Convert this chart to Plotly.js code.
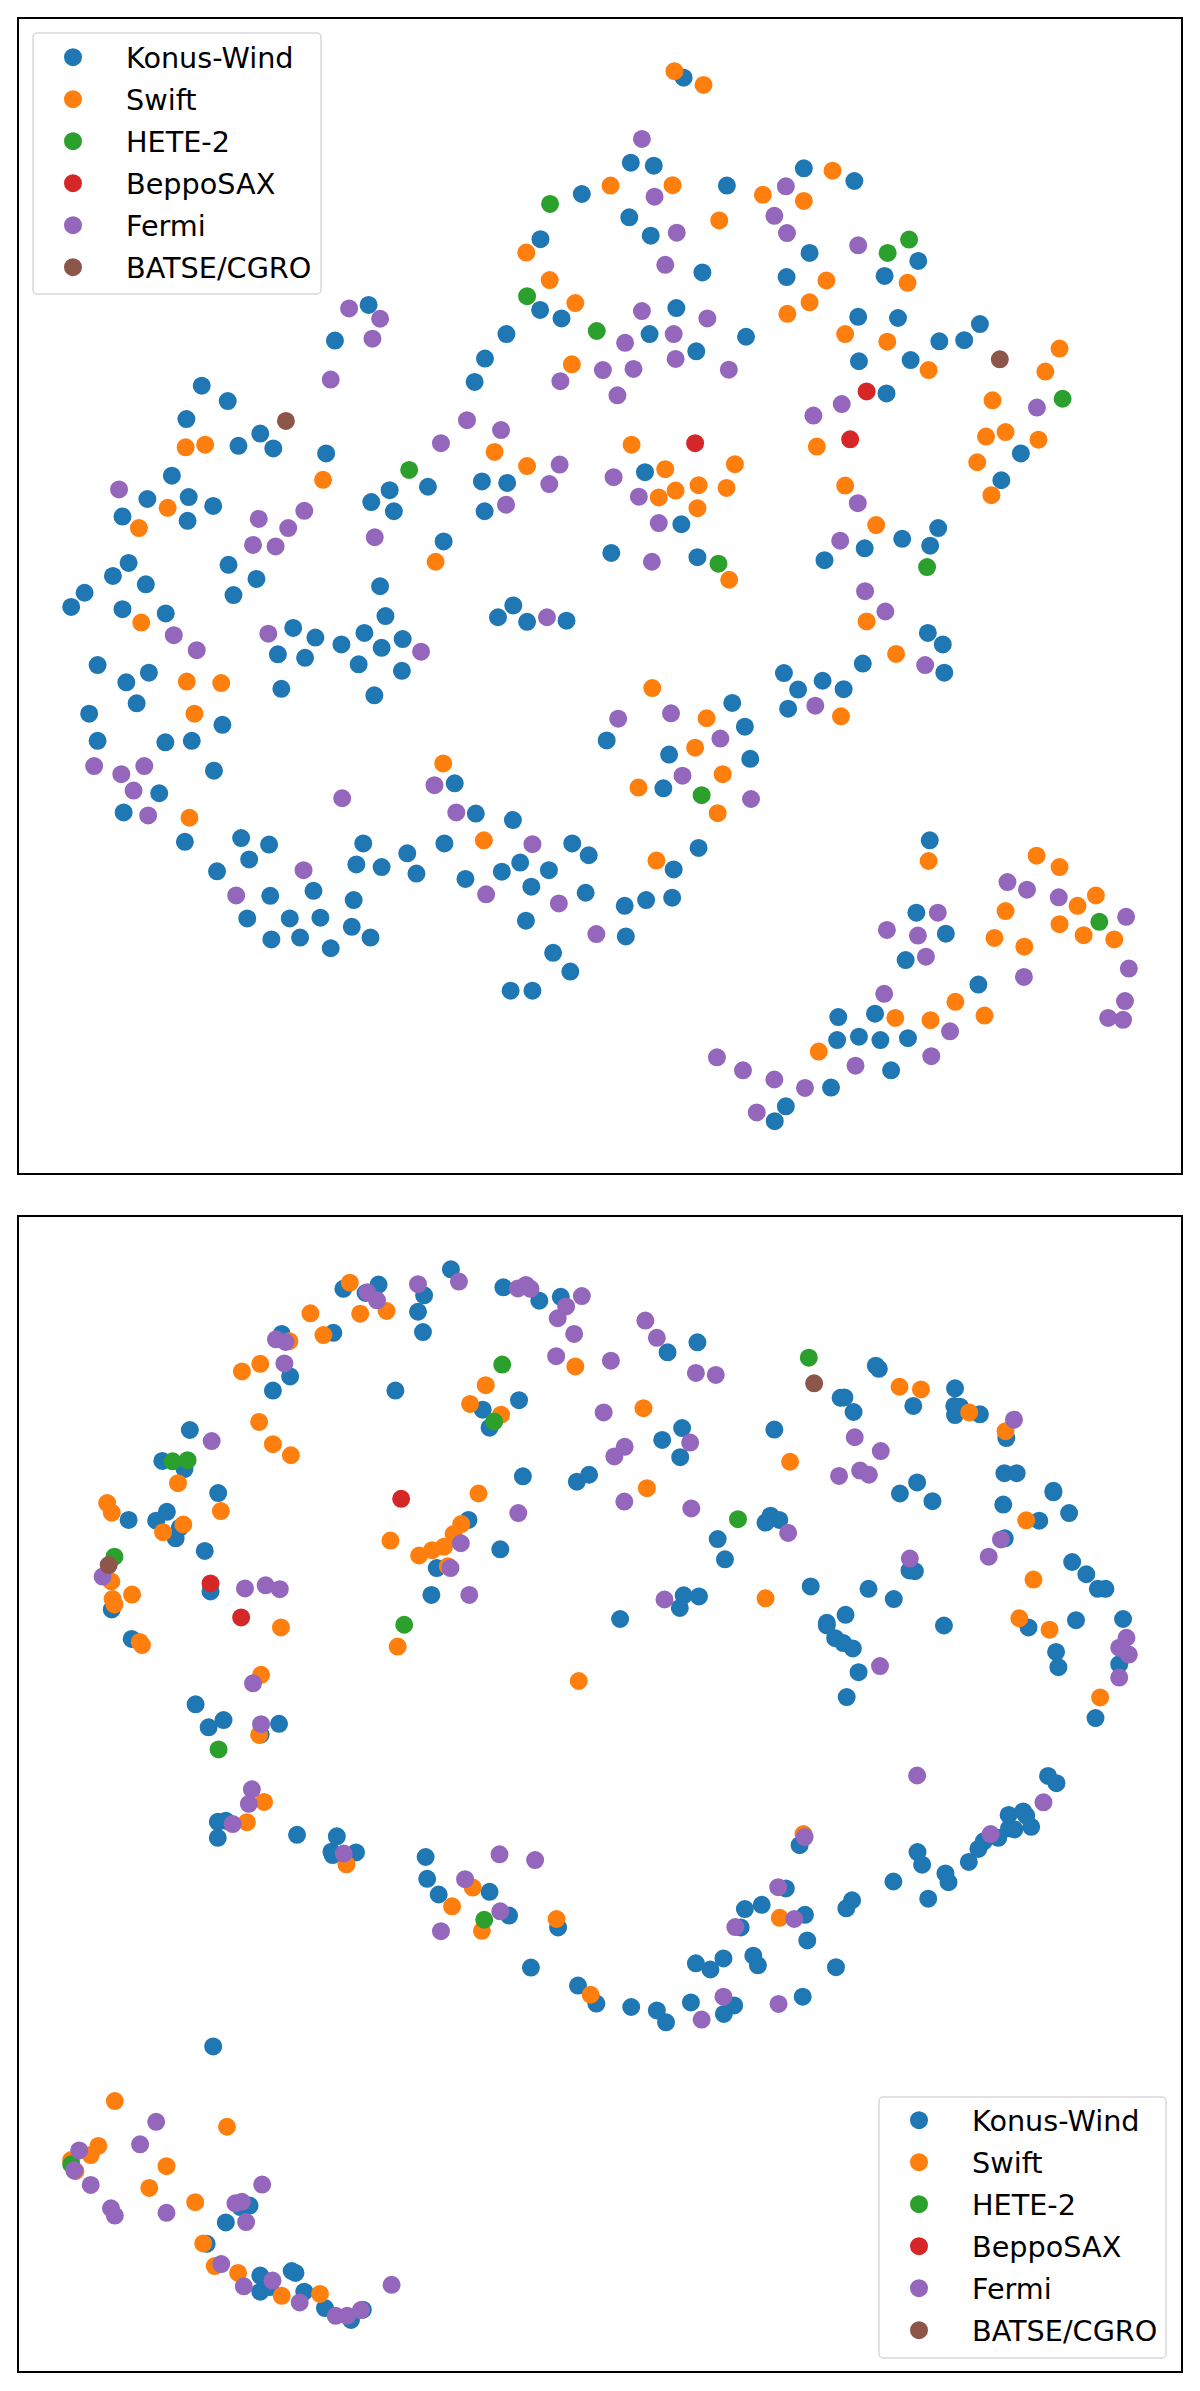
<!DOCTYPE html>
<html>
<head>
<meta charset="utf-8">
<script src="https://cdn.plot.ly/plotly-3.0.1.min.js"></script>
<style>html,body{margin:0;padding:0;background:#fff}#chart{width:1200px;height:2391px}</style>
</head>
<body>
<div id="chart"></div>
<script>
const names = ["Konus-Wind","Swift","HETE-2","BeppoSAX","Fermi","BATSE/CGRO"];
const colors = ["#1f77b4","#ff7f0e","#2ca02c","#d62728","#9467bd","#8c564b"];

const topKonus = [[1520,507],[1412,625],[1411,810],[1467,832],[1323,873],[1267,937],[1240,998],[963,797],[875,890],[527,1008],[595,1048],[487,1095],[680,1133],[623,1165],[714,1172],[852,1185],[449,1243],[385,1304],[493,1299],[557,1322],[320,1350],[490,1361],[1018,1281],[970,1312],[1029,1336],[1118,1272],[1259,1258],[1325,1262],[1266,1336],[1159,1415],[597,1476],[670,1513],[336,1471],[295,1505],[381,1527],[221,1549],[993,1532],[610,1555],
[1786,203],[1648,425],[1708,433],[1899,485],[1644,568],[1700,616],[1835,712],[1767,805],[1697,873],[1819,918],[1949,880],[2100,440],[2232,473],[2115,661],[2055,724],[2311,721],[2399,682],[2242,828],[2346,831],[2454,892],[2519,889],[2560,847],[2244,944],[2379,941],[2316,1028],[2667,1185],[2616,1255],[1685,1234],[1780,1370],[1597,1445],[1822,1456],[2451,1380],[2357,1408],[2430,1426],[2259,1433],[2154,1464],
[186,1586],[320,1592],[433,1603],[1007,1610],[766,1641],[824,1666],[892,1684],[952,1654],[997,1693],[1052,1670],[726,1710],[797,1719],[937,1736],[1050,1753],[978,1817],[735,1800],[1301,1613],[1341,1582],[1377,1625],[1480,1622],[255,1738],[330,1783],[389,1758],[357,1838],[233,1865],[581,1894],[255,1936],[432,1940],[501,1936],[559,2014],[416,2073],[323,2123],[483,2200],[630,2190],[703,2207],[651,2246],[567,2277],[949,2204],[931,2259],[997,2266],[1064,2230],[1088,2283],[1161,2204],[1188,2047],[1243,2126],[1340,2143],[1216,2297],[1311,2278],[1359,2254],[1434,2274],[1388,2317],[1495,2204],[1538,2235],[1530,2333],[1374,2406],[819,2328],[706,2341],[924,2352],[646,2400],[757,2400],[837,2398],[709,2455],[784,2450],[919,2422],[968,2450],[864,2478],[1445,2490],[1490,2539],[1334,2589],[1391,2589],
[2424,1654],[2463,1684],[2467,1758],[2254,1734],[2048,1759],[2085,1802],[2149,1779],[2204,1801],[2059,1852],[1913,1837],[1946,1899],[1585,1935],[1960,1983],[1748,1972],[1733,2060],[1825,2216],[1760,2272],[1756,2346],[1688,2352],[1632,2367],[1635,2447],[2429,2196],[2394,2385],[2471,2440],[2366,2509],[2556,2573],[2286,2649],[2190,2658],[2187,2718],[2244,2709],[2300,2718],[2372,2713],[2328,2797],[2171,2842],[2053,2891],[2024,2930]];
const topSwift = [[1375,660],[1436,732],[1503,792],[1494,952],[485,1169],[536,1162],[844,1254],[438,1327],[363,1380],[1292,1181],[1377,1218],[1138,1468],
[1762,186],[1838,222],[1595,485],[1757,484],[1879,576],[1993,509],[2175,446],[2100,525],[2159,733],[2115,790],[2057,820],[2371,739],[2208,873],[2318,893],[2426,967],[2768,911],[2731,971],[2593,1046],[2713,1149],[2627,1129],[2576,1141],[2553,1208],[2590,1294],[2134,1167],[1650,1162],[1738,1226],[1920,1213],[1825,1268],[1898,1275],[1765,1282],[1721,1300],[1822,1328],[2208,1269],[2289,1372],[1905,1515],
[369,1627],[488,1781],[578,1785],[508,1865],[495,2137],[1158,1995],[1264,2196],
[2264,1624],[2341,1709],[2197,1872],[1704,1798],[1846,1877],[1816,1954],[1888,2023],[1668,2058],[1875,2125],[1715,2249],[2426,2250],[2708,2236],[2768,2266],[2863,2340],[2815,2367],[2627,2381],[2768,2415],[2831,2444],[2911,2455],[2598,2451],[2676,2474],[2496,2618],[2572,2654],[2431,2666],[2339,2660],[2139,2748]];
const topHete = [[1437,533],[1377,774],[1559,865],[1069,1228],[2375,626],[2319,661],[2776,1042],[1877,1473],[2422,1482],[1833,2078],[2872,2409]];
const topBeppo = [[2264,1023],[2221,1148],[1816,1158]];
const topFermi = [[912,806],[993,833],[973,885],[864,992],[1464,996],[1575,967],[1220,1098],[1309,1124],[1152,1158],[1462,1214],[1435,1265],[1322,1319],[311,1279],[795,1335],[676,1356],[753,1380],[661,1424],[720,1428],[979,1404],
[1677,363],[2053,487],[1710,514],[2023,564],[2056,609],[1768,608],[2242,641],[1738,692],[1677,813],[1848,832],[1760,873],[1633,896],[1765,938],[1655,964],[1904,966],[1613,1033],[2199,1056],[2125,1086],[2709,1065],[1603,1247],[1669,1298],[1721,1367],[2241,1315],[2195,1413],[1703,1468],[2260,1545],
[454,1660],[514,1699],[701,1656],[1100,1703],[1429,1613],[246,2002],[317,2023],[377,2002],[349,2066],[387,2131],[894,2086],[1135,2052],[1192,2123],[793,2274],[617,2340],[1391,2206],[1270,2337],[1460,2361],[1558,2441],
[2313,1598],[2417,1738],[1615,1878],[1753,1864],[1882,1930],[1783,2027],[1962,2088],[2130,1844],[2450,2385],[2317,2430],[2398,2445],[2419,2500],[2632,2305],[2683,2325],[2766,2345],[2942,2396],[2949,2531],[2939,2616],[2895,2660],[2934,2665],[2675,2553],[2310,2597],[2482,2695],[2433,2760],[2235,2785],[1873,2763],[1941,2797],[2023,2821],[2103,2843],[1977,2907]];
const topBatse = [[747,1100],[2612,939]];

const botKonus = [[1178,181],[897,232],[989,221],[955,243],[1108,249],[1092,292],[1105,345],[871,347],[736,350],[758,461],[713,498],[1033,498],[1315,228],[1409,263],[1465,253],[1356,523],[1261,548],[1279,595],[496,601],[424,682],[482,703],[570,766],[336,836],[408,838],[436,815],[470,856],[459,884],[535,917],[1366,722],[1507,736],[1539,718],[1224,836],[1307,913],[1141,962],[1127,1032],[550,1023],[292,1070],[344,1147],[511,1318],[584,1359],[545,1378],[729,1369],[681,1397],
[1822,372],[1744,398],[2288,433],[2296,441],[2196,517],[2206,516],[2230,554],[2023,600],[2495,492],[2386,538],[2493,538],[2508,540],[2495,562],[2560,560],[2629,622],[2624,714],[2656,714],[2752,760],[2752,764],[2396,738],[2351,767],[2436,787],[2621,796],[2793,818],[2715,838],[2625,884],[1782,596],[1730,627],[1777,672],[2013,825],[2036,836],[2000,843],[1875,886],[1894,939],[2801,946],[2838,978],[2868,1016],[2888,1016],[2376,968],[2390,970],[2118,1010],[2269,1016],[2335,1043],[1786,1033],[1826,1036],[1776,1066],[1620,1095],[2209,1084],[2160,1105],[2160,1112],[2182,1145],[2203,1158],[2228,1172],[2466,1112],[2687,1117],[2811,1098],[2934,1095],[2759,1181],[2765,1221],[2924,1213],[2243,1234],[2212,1299],[2862,1354],[2738,1505],[2760,1524],
[569,1625],[590,1622],[569,1667],[776,1659],[880,1663],[866,1703],[869,1712],[930,1705],[1112,1717],[1116,1774],[1146,1815],[1279,1808],[1330,1870],[1458,1901],[1387,2006],[1510,2053],[1558,2100],[557,2212],[652,2628],[628,2632],[590,2672],[540,2728],[680,2811],[762,2799],[772,2804],[680,2853],[705,2841],[795,2853],[849,2896],[948,2900],[917,2927],
[2635,1607],[2673,1598],[2681,1609],[2694,1638],[2636,1642],[2650,1645],[2608,1667],[2570,1676],[2556,1696],[2531,1730],[2397,1704],[2409,1737],[2470,1760],[2478,1783],[2334,1781],[2425,1826],[2226,1830],[2211,1851],[2089,1686],[2053,1799],[1990,1842],[1946,1853],[2103,1868],[1935,1901],[2109,1935],[1890,1982],[1968,1975],[1980,2000],[1818,1995],[1856,2011],[2184,2005],[2097,2082],[1805,2097],[1918,2105],[1891,2127],[1649,2109],[1716,2118],[1740,2149]];
const botSwift = [[914,216],[811,296],[941,297],[1010,290],[845,353],[756,369],[680,428],[632,448],[1269,484],[1228,533],[1309,561],[677,580],[713,638],[760,667],[465,740],[280,792],[292,817],[577,813],[479,848],[426,868],[1250,767],[1205,847],[1185,873],[1160,906],[1129,915],[1095,929],[1020,890],[1170,957],[291,997],[345,1031],[294,1043],[299,1057],[734,1117],[365,1155],[371,1163],[1039,1167],[1503,435],[1512,1257],[682,1241],[677,1398],
[2350,488],[2406,495],[2532,555],[2627,604],[1681,544],[2064,684],[1690,753],[2681,837],[2700,992],[2000,1041],[2663,1093],[2742,1123],[2874,1300],
[645,1626],[690,1573],[905,1736],[1235,1797],[1181,1846],[1259,1910],[1454,1879],[1543,2077],[300,2355],[593,2422],[257,2472],[237,2496],[186,2509],[197,2538],[435,2525],[390,2582],[510,2619],[531,2727],[561,2786],[622,2804],[736,2864],[836,2859],
[2099,1657],[2037,1876]];
const botHete = [[1312,430],[1291,579],[451,683],[490,680],[299,932],[1056,1110],[571,1436],[2113,412],[1928,834],[1265,1881],[186,2520]];
const botBeppo = [[1048,781],[550,1002],[630,1091]];
const botFermi = [[1092,220],[1199,213],[960,241],[985,262],[721,364],[746,371],[743,427],[1353,231],[1374,222],[1386,232],[1479,278],[1457,309],[1520,251],[1500,350],[1453,408],[553,630],[1204,897],[1177,962],[1226,1032],[1354,818],[268,984],[640,1015],[694,1007],[731,1017],[661,1263],[682,1370],[658,1540],
[1686,315],[1716,360],[1596,420],[1818,452],[1870,457],[1577,555],[2649,574],[2233,620],[2301,656],[1803,634],[1632,645],[1605,670],[2192,721],[2247,707],[2270,718],[1631,788],[1806,806],[2059,870],[2615,887],[2583,932],[2377,937],[1736,1044],[2943,1144],[2924,1170],[2949,1188],[2924,1248],[2299,1218],[2396,1504],[2726,1574],
[650,1578],[608,1631],[898,1708],[1305,1710],[1398,1725],[1215,1775],[1307,1859],[1152,1911],[408,2409],[366,2468],[207,2484],[194,2536],[237,2574],[685,2573],[290,2635],[300,2654],[435,2647],[615,2622],[632,2618],[643,2671],[578,2781],[712,2824],[637,2839],[783,2881],[877,2916],[907,2916],[943,2901],[1023,2835],
[2588,1657],[2102,1665],[2033,1796],[2075,1879],[1921,1900],[1890,2082],[2034,2101],[1833,2142]];
const botBatse = [[284,954],[2127,479]];

const W = 1200, H = 2391;
const topSeries = [topKonus,topSwift,topHete,topBeppo,topFermi,topBatse];
const botSeries = [botKonus,botSwift,botHete,botBeppo,botFermi,botBatse];

function makeTraces(series, xa, ya, legendId) {
  return series.map((pts, i) => ({
    type: "scatter", mode: "markers", name: names[i],
    x: pts.map(p => p[0]), y: pts.map(p => p[1]),
    xaxis: xa, yaxis: ya, legend: legendId, legendgroup: legendId + i,
    marker: {color: colors[i], size: 16, line: {width: 2, color: colors[i]}},
    hoverinfo: "x+y+name"
  }));
}
function hiddenAxis(extra) {
  return Object.assign({showgrid:false, zeroline:false, showticklabels:false, ticks:"",
    showline:true, mirror:true, linecolor:"#000", linewidth:1.5}, extra);
}
function roundedBox(x0, y0, x1, y1, r) {
  const X = v => (v / W).toFixed(5), Y = v => (1 - v / H).toFixed(5);
  const k = r * 0.45;
  return {type:"path", xref:"paper", yref:"paper", layer:"above",
    fillcolor:"rgba(255,255,255,0.8)", line:{color:"#d9d9d9", width:1.5},
    path:`M${X(x0+r)},${Y(y0)} L${X(x1-r)},${Y(y0)} C${X(x1-k)},${Y(y0)} ${X(x1)},${Y(y0+k)} ${X(x1)},${Y(y0+r)} `+
         `L${X(x1)},${Y(y1-r)} C${X(x1)},${Y(y1-k)} ${X(x1-k)},${Y(y1)} ${X(x1-r)},${Y(y1)} `+
         `L${X(x0+r)},${Y(y1)} C${X(x0+k)},${Y(y1)} ${X(x0)},${Y(y1-k)} ${X(x0)},${Y(y1-r)} `+
         `L${X(x0)},${Y(y0+r)} C${X(x0)},${Y(y0+k)} ${X(x0+k)},${Y(y0)} ${X(x0+r)},${Y(y0)} Z`};
}
function legendOpts(left, top) {
  return {x:left/W, y:1-top/H, xanchor:"left", yanchor:"top", bgcolor:"rgba(0,0,0,0)", borderwidth:0,
    itemwidth:96, tracegroupgap:1.7, itemclick:false, itemdoubleclick:false,
    font:{family:"DejaVu Sans", size:28.7, color:"#000"}};
}

const layout = {
  width:W, height:H, margin:{l:0,r:0,t:0,b:0,pad:0}, paper_bgcolor:"#fff", plot_bgcolor:"#fff",
  showlegend:true, hovermode:"closest",
  xaxis: hiddenAxis({domain:[18.75/W,1181.25/W], range:[49,3086], anchor:"y"}),
  yaxis: hiddenAxis({domain:[1-1173.25/H,1-18.75/H], range:[3066,49], anchor:"x"}),
  xaxis2: hiddenAxis({domain:[18.75/W,1181.25/W], range:[49,3086], anchor:"y2"}),
  yaxis2: hiddenAxis({domain:[1-2371.25/H,1-1217.25/H], range:[3061,45], anchor:"x2"}),
  legend: legendOpts(20, 32),
  legend2: legendOpts(866, 2095),
  shapes: [roundedBox(33,33,321,294,4), roundedBox(879,2097,1166,2358,4)]
};
Plotly.newPlot("chart", makeTraces(topSeries,"x","y","legend").concat(makeTraces(botSeries,"x2","y2","legend2")), layout, {displayModeBar:false});
</script>
</body>
</html>
